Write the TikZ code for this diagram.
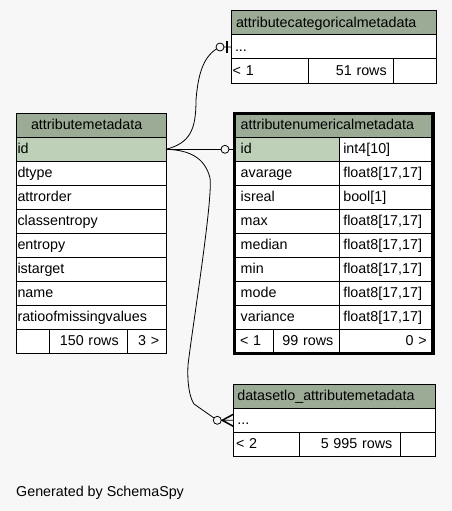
\documentclass[tikz,border=0pt]{standalone}
\usepackage{fontspec}
\setmainfont{Liberation Sans}
\usetikzlibrary{positioning,calc}
\definecolor{spybg}{HTML}{F7F7F7}
\definecolor{spyhead}{HTML}{9BAB96}
\definecolor{spykey}{HTML}{BED1B8}

\begin{document}
\begin{tikzpicture}[x=1pt, y=-1pt,
        font=\fontsize{14.3}{17}\selectfont,
        cell/.style={draw, line width=1pt, fill=white, outer sep=0pt, inner ysep=0pt,
            minimum height=24pt, text height=11pt, text depth=2pt},
        lft/.style={align=left},
        rgt/.style={align=right},
        hdr/.style={cell, lft, fill=spyhead},
        amrow/.style={cell, lft, minimum width=150pt, text width=147pt, inner xsep=1.5pt},
        numname/.style={cell, lft, minimum width=104.8pt, text width=92.4pt, inner xsep=6.2pt},
        numtype/.style={cell, lft, minimum width=93.7pt, text width=85.7pt, inner xsep=4pt},
        link/.style={line width=0.8pt},
        zerocirc/.style={circle, draw, fill=spybg, line width=0.8pt, inner sep=0pt, minimum size=8pt}]
    \fill[spybg] (0,0) rectangle (452,511);

    % attributemetadata
    \node[hdr, anchor=north west, minimum width=150pt, text width=120pt, inner xsep=15pt] (am-hdr) at (16,113.3) {attributemetadata};
    \node[amrow, fill=spykey, below=0pt of am-hdr] (am-id) {id};
    \node[amrow, below=0pt of am-id] (am-dtype) {dtype};
    \node[amrow, below=0pt of am-dtype] (am-order) {attrorder};
    \node[amrow, below=0pt of am-order] (am-classent) {classentropy};
    \node[amrow, below=0pt of am-classent] (am-entropy) {entropy};
    \node[amrow, below=0pt of am-entropy] (am-target) {istarget};
    \node[amrow, below=0pt of am-target] (am-name) {name};
    \node[amrow, below=0pt of am-name] (am-ratio) {ratioofmissingvalues};
    \node[cell, anchor=north west, minimum width=33.3pt] (am-f1) at (am-ratio.south west) {};
    \node[cell, rgt, right=0pt of am-f1, minimum width=78.4pt, text width=60.4pt, inner xsep=9pt] (am-f2) {150 rows};
    \node[cell, rgt, right=0pt of am-f2, minimum width=38.3pt, text width=24.9pt, inner xsep=6.7pt] (am-f3) {3 >};

    % attributecategoricalmetadata
    \node[hdr, anchor=north west, minimum width=205.3pt, text width=195.3pt, inner xsep=5pt] (cat-hdr) at (231,11) {attributecategoricalmetadata};
    \node[cell, lft, below=0pt of cat-hdr, minimum width=205.3pt, text width=197.3pt, inner xsep=4pt] (cat-row) {...};
    \node[cell, lft, anchor=north west, minimum width=77.3pt, text width=73.9pt, inner xsep=1.7pt] (cat-f1) at (cat-row.south west) {< 1};
    \node[cell, rgt, right=0pt of cat-f1, minimum width=85pt, text width=71.8pt, inner xsep=6.6pt] (cat-f2) {51 rows};
    \node[cell, right=0pt of cat-f2, minimum width=43pt] (cat-f3) {};

    % attributenumericalmetadata
    \node[hdr, anchor=north west, minimum width=198.5pt, text width=186.1pt, inner xsep=6.2pt] (num-hdr) at (234.5,113.3) {attributenumericalmetadata};
    \node[numname, fill=spykey, anchor=north west] (num-id) at (num-hdr.south west) {id};
    \node[numname, below=0pt of num-id] (num-avg) {avarage};
    \node[numname, below=0pt of num-avg] (num-real) {isreal};
    \node[numname, below=0pt of num-real] (num-max) {max};
    \node[numname, below=0pt of num-max] (num-med) {median};
    \node[numname, below=0pt of num-med] (num-min) {min};
    \node[numname, below=0pt of num-min] (num-mode) {mode};
    \node[numname, below=0pt of num-mode] (num-var) {variance};
    \node[numtype, right=0pt of num-id] (num-id-t) {int4[10]};
    \node[numtype, right=0pt of num-avg] (num-avg-t) {float8[17,17]};
    \node[numtype, right=0pt of num-real] (num-real-t) {bool[1]};
    \node[numtype, right=0pt of num-max] (num-max-t) {float8[17,17]};
    \node[numtype, right=0pt of num-med] (num-med-t) {float8[17,17]};
    \node[numtype, right=0pt of num-min] (num-min-t) {float8[17,17]};
    \node[numtype, right=0pt of num-mode] (num-mode-t) {float8[17,17]};
    \node[numtype, right=0pt of num-var] (num-var-t) {float8[17,17]};
    \node[cell, lft, anchor=north west, minimum width=38.8pt, text width=27.8pt, inner xsep=5.5pt] (num-f1) at (num-var.south west) {< 1};
    \node[cell, rgt, right=0pt of num-f1, minimum width=66pt, text width=54pt, inner xsep=6pt] (num-f2) {99 rows};
    \node[cell, rgt, right=0pt of num-f2, minimum width=93.7pt, text width=81.1pt, inner xsep=6.3pt] (num-f3) {0 >};
    \draw[line width=3.5pt] (num-hdr.north west) rectangle (num-f3.south east);

    % datasetlo_attributemetadata
    \node[hdr, anchor=north west, minimum width=202pt, text width=194pt, inner xsep=4pt] (dsl-hdr) at (233.3,384.3) {datasetlo\_attributemetadata};
    \node[cell, lft, below=0pt of dsl-hdr, minimum width=202pt, text width=194pt, inner xsep=4pt] (dsl-row) {...};
    \node[cell, lft, anchor=north west, minimum width=66pt, text width=60.6pt, inner xsep=2.7pt] (dsl-f1) at (dsl-row.south west) {< 2};
    \node[cell, rgt, right=0pt of dsl-f1, minimum width=100.7pt, text width=85.3pt, inner xsep=7.7pt] (dsl-f2) {5 995 rows};
    \node[cell, right=0pt of dsl-f2, minimum width=35.3pt] (dsl-f3) {};

    % relations
    \draw[link] (am-id.east) -- (num-id.west);
    \draw[link] (am-id.east) .. controls (190,143) and (196,130) .. (196,100)
        .. controls (198,75) and (203,55) .. ($(cat-row.west)+(-11,0)$) -- (cat-row.west);
    \draw[link] (am-id.east) .. controls (190,150) and (205,158) .. (210,178)
        .. controls (213,200) and (192,330) .. (188,365)
        .. controls (187,385) and (190,398) .. (194,404)
        -- ($(dsl-row.west)+(-16,0)$) -- (dsl-row.west);
    \node[zerocirc] (cat-opt) at ($(cat-row.west)+(-11,0)$) {};
    \draw[line width=2pt] ($(cat-row.west)+(-4,-6)$) -- ($(cat-row.west)+(-4,6)$);
    \node[zerocirc] (num-opt) at ($(num-id.west)+(-9.5,0)$) {};
    \node[zerocirc] (dsl-opt) at ($(dsl-row.west)+(-16,0)$) {};
    \draw[line width=1.5pt] ($(dsl-row.west)+(0,-6)$) -- ($(dsl-row.west)+(-11,0)$) -- ($(dsl-row.west)+(0,6)$);

    \node[anchor=base west, inner sep=0pt] (credit) at (16,496.7) {Generated by SchemaSpy};
\end{tikzpicture}
\end{document}
